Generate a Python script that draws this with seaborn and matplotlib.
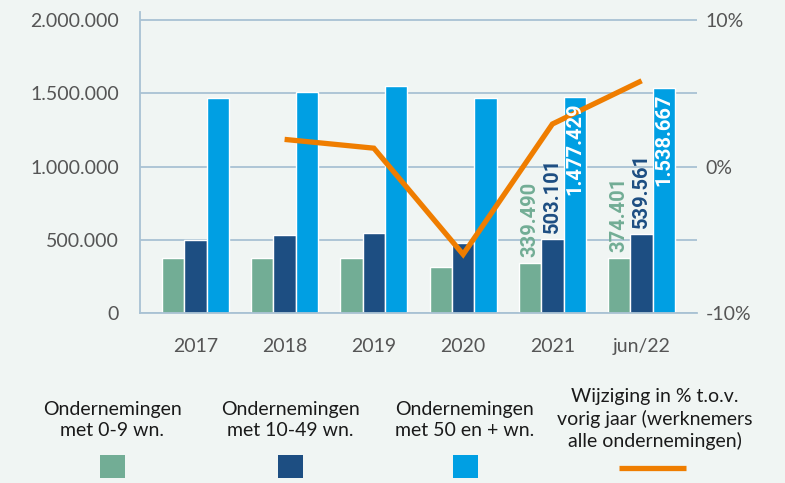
import numpy as np
import pandas as pd
import matplotlib
matplotlib.use("Agg")
import matplotlib.pyplot as plt
import seaborn as sns
from matplotlib.patches import Rectangle
from matplotlib.lines import Line2D

# ---- data ----
years = ["2017", "2018", "2019", "2020", "2021", "jun/22"]
small = [375000, 375000, 375000, 314000, 339490, 374401]
medium = [498000, 532000, 546000, 478000, 503101, 539561]
large = [1467000, 1508000, 1549000, 1467000, 1477429, 1538667]
series_names = ["Ondernemingen\nmet 0-9 wn.", "Ondernemingen\nmet 10-49 wn.",
                "Ondernemingen\nmet 50 en + wn."]
line_years = ["2018", "2019", "2020", "2021", "jun/22"]
line_pct = [1.85, 1.25, -6.0, 2.9, 5.85]
line_name = "Wijziging in % t.o.v.\nvorig jaar (werknemers\nalle ondernemingen)"
labelled_years = ["2021", "jun/22"]
left_ticks = [0, 500000, 1000000, 1500000, 2000000]
right_ticks = [-10, 0, 10]

colors = ["#72AD95", "#1D4E82", "#009FE3"]
label_colors = ["#72AD95", "#1D4E82", "white"]
orange = "#EF7D00"
bg = "#F0F5F3"
grid_c = "#A9C2D3"
tick_c = "#555555"

df = pd.DataFrame({
    "jaar": years * 3,
    "waarde": small + medium + large,
    "type": sum([[n] * len(years) for n in series_names], []),
})

sns.set_theme(style="white")
plt.rcParams["font.family"] = ["Lato", "DejaVu Sans"]

fig = plt.figure(figsize=(7.85, 4.83), dpi=100, facecolor=bg)
ax = fig.add_axes([140 / 785, 1 - 313 / 483, 557 / 785, 301 / 483])
ax.set_facecolor(bg)

sns.barplot(data=df, x="jaar", y="waarde", hue="type", palette=colors,
            width=0.75, gap=0, saturation=1, ax=ax, legend=False,
            order=years, hue_order=series_names)

def fmt(v):
    return f"{int(round(v)):,}".replace(",", ".")

ax.set_xlim(-0.62, len(years) - 1 + 0.62)
top = 2000000 * (1 + 8 / 293)
ax.set_ylim(0, top)
ax.set_yticks(left_ticks)
ax.set_yticklabels([fmt(v) for v in left_ticks])
ax.set_xlabel("")
ax.set_ylabel("")
ax.set_axisbelow(True)
ax.yaxis.grid(True, color=grid_c, lw=1.3)
ax.xaxis.grid(False)
for s in ["top", "right"]:
    ax.spines[s].set_visible(False)
for s in ["left", "bottom"]:
    ax.spines[s].set_color(grid_c)
    ax.spines[s].set_linewidth(1.3)
ax.tick_params(axis="y", length=0, pad=15, labelsize=14, labelcolor=tick_c)
ax.tick_params(axis="x", length=0, pad=18, labelsize=14, labelcolor=tick_c)

# line on secondary axis
ax2 = ax.twinx()
xpos = [years.index(y) for y in line_years]
sns.lineplot(x=xpos, y=line_pct, color=orange, lw=3.8, ax=ax2,
             solid_joinstyle="miter", solid_capstyle="butt")
ax2.set_ylim(-10, 10 + 20 * 8 / 293)
ax2.set_yticks(right_ticks)
ax2.set_yticklabels([f"{t}%" for t in right_ticks])
ax2.tick_params(axis="y", length=0, pad=6, labelsize=14, labelcolor=tick_c)
for s in ax2.spines.values():
    s.set_visible(False)
ax2.grid(False)
ax2.set_xlim(ax.get_xlim())

# bar value labels (drawn above the line)
for ci, cont in enumerate(ax.containers):
    for yr in labelled_years:
        i = years.index(yr)
        bar = cont.patches[i]
        v = bar.get_height()
        xc = bar.get_x() + bar.get_width() / 2
        off = top * 6 / 301
        if ci < 2:
            ax2.text(xc, v + off, fmt(v), rotation=90, ha="center", va="bottom",
                     color=label_colors[ci], fontsize=14.5, fontweight="bold",
                     family=["Roboto", "DejaVu Sans"], transform=ax.transData,
                     zorder=10)
        else:
            ax2.text(xc, v - off, fmt(v), rotation=90, ha="center", va="top",
                     color=label_colors[ci], fontsize=14.5, fontweight="bold",
                     family=["Roboto", "DejaVu Sans"], transform=ax.transData,
                     zorder=10)

# legend (manual, centered columns)
centers = [112, 290, 465]
for c, name, col in zip(centers, series_names, colors):
    fig.text(c / 785, 1 - 420 / 483, name, ha="center", va="center",
             fontsize=14, color="#1a1a1a", linespacing=1.3)
    fig.add_artist(Rectangle(((c - 12.5) / 785, 1 - 478 / 483), 25 / 785, 23 / 483,
                             transform=fig.transFigure, color=col, lw=0))
fig.text(655 / 785, 1 - 419 / 483, line_name, ha="center", va="center",
         fontsize=14, color="#1a1a1a", linespacing=1.3)
fig.add_artist(Line2D([619 / 785, 686 / 785], [1 - 468 / 483, 1 - 468 / 483],
                      transform=fig.transFigure, color=orange, lw=3.8,
                      solid_capstyle="butt"))

fig.savefig("out.png", dpi=100, facecolor=bg)
